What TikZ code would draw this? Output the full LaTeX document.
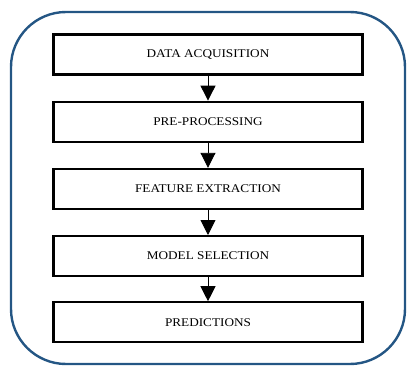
\documentclass[tikz,border=0pt]{standalone}
\usepackage{fontspec}
\setmainfont{Liberation Serif}[FakeStretch=1.12]
\usepackage{xcolor}
\usepackage{tikz}
\usetikzlibrary{arrows.meta,positioning}

\definecolor{framblue}{RGB}{36,86,132}
\tikzset{
  stage/.style={draw, line width=2.2pt, minimum width=309pt, minimum height=40pt, inner sep=0pt, font=\fontsize{11.8}{13}\selectfont},
  flow/.style={-{Triangle[width=15pt,length=15pt]}, line width=0.9pt},
  frame/.style={draw=framblue, line width=2.4pt, rounded corners=55pt}
}

\begin{document}
\begin{tikzpicture}[x=1pt,y=-1pt]
  \useasboundingbox (0,0) rectangle (408,367);
  \draw [frame] (11,12) rectangle (405,364);
  \node [stage] at (208,54.5) (DA) {DATA ACQUISITION};
  \node [stage, below=25pt of DA] (PP) {PRE-PROCESSING};
  \node [stage, below=25pt of PP] (FE) {FEATURE EXTRACTION};
  \node [stage, below=25pt of FE] (MS) {MODEL SELECTION};
  \node [stage, below=24pt of MS] (PR) {PREDICTIONS};
  \draw [flow] (DA.south) to (PP.north);
  \draw [flow] (PP.south) to (FE.north);
  \draw [flow] (FE.south) to (MS.north);
  \draw [flow] (MS.south) to (PR.north);
\end{tikzpicture}
\end{document}
